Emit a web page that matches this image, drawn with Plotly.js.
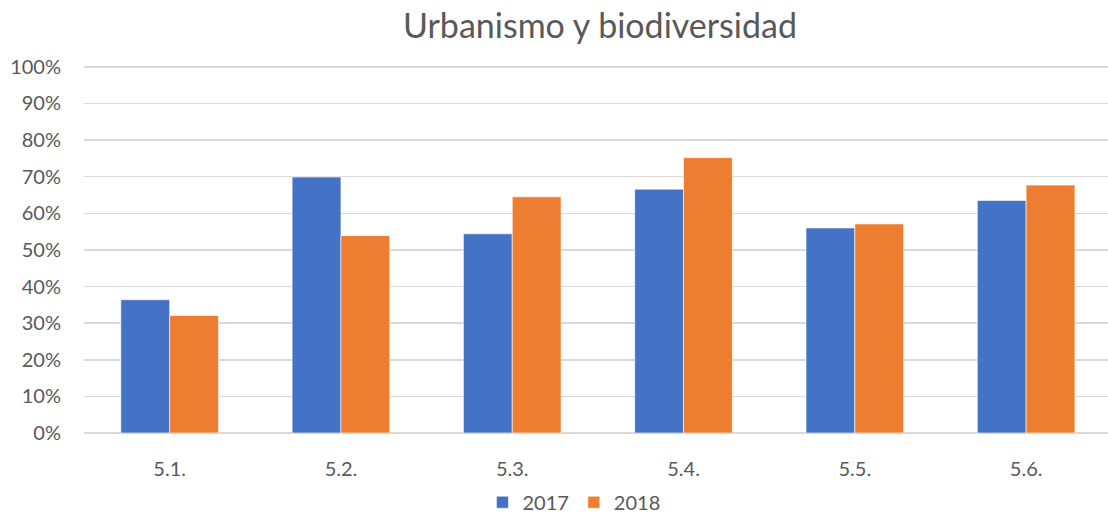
<!DOCTYPE html>
<html>
<head>
<meta charset="utf-8">
<script src="https://cdn.plot.ly/plotly-3.0.1.min.js"></script>
<style>html,body{margin:0;padding:0;background:#fff;}#chart{width:1108px;height:514px;}</style>
</head>
<body>
<div id="chart"></div>
<script>
const categories = ["5.1.", "5.2.", "5.3.", "5.4.", "5.5.", "5.6."];
const values2017 = [0.364, 0.699, 0.544, 0.666, 0.560, 0.635];
const values2018 = [0.321, 0.539, 0.645, 0.752, 0.571, 0.677];
const seriesNames = ["2017", "2018"];

const font = "Lato, 'Open Sans', sans-serif";
const grey = "#595959";

const traces = [
  {type: "bar", name: seriesNames[0], x: categories, y: values2017,
   marker: {color: "#4472C4", line: {color: "#ffffff", width: 0.6}}, hoverinfo: "none"},
  {type: "bar", name: seriesNames[1], x: categories, y: values2018,
   marker: {color: "#ED7D31", line: {color: "#ffffff", width: 0.6}}, hoverinfo: "none"}
];

const layout = {
  width: 1108, height: 514,
  margin: {l: 84, r: 0, t: 65, b: 81, autoexpand: false},
  paper_bgcolor: "#ffffff", plot_bgcolor: "#ffffff",
  title: {text: "Urbanismo y biodiversidad", font: {family: font, size: 34, color: grey},
          x: 0.5415, xref: "container", xanchor: "center", y: 0.95, yref: "container", yanchor: "middle"},
  barmode: "group", bargap: 0.43, bargroupgap: 0,
  xaxis: {type: "category", range: [-0.5, 5.478], showgrid: false, zeroline: false, showline: false,
          ticks: "", tickfont: {family: font, size: 20, color: grey}, ticklabelstandoff: 22},
  yaxis: {range: [0, 1.005], tickvals: [0,0.1,0.2,0.3,0.4,0.5,0.6,0.7,0.8,0.9,1], tickformat: ".0%",
          showgrid: true, gridcolor: "#d9d9d9", gridwidth: 1.5, zeroline: true, zerolinecolor: "#d9d9d9",
          zerolinewidth: 1.5, showline: false, ticks: "",
          tickfont: {family: font, size: 20, color: grey}, ticklabelstandoff: 22},
  legend: {orientation: "h", x: 0.518, xref: "container", xanchor: "center", y: 0.023, yref: "container", yanchor: "middle",
           font: {family: font, size: 20, color: grey}, itemwidth: 30, traceorder: "normal"},
  showlegend: true
};

Plotly.newPlot("chart", traces, layout, {displayModeBar: false, staticPlot: true});
</script>
</body>
</html>
